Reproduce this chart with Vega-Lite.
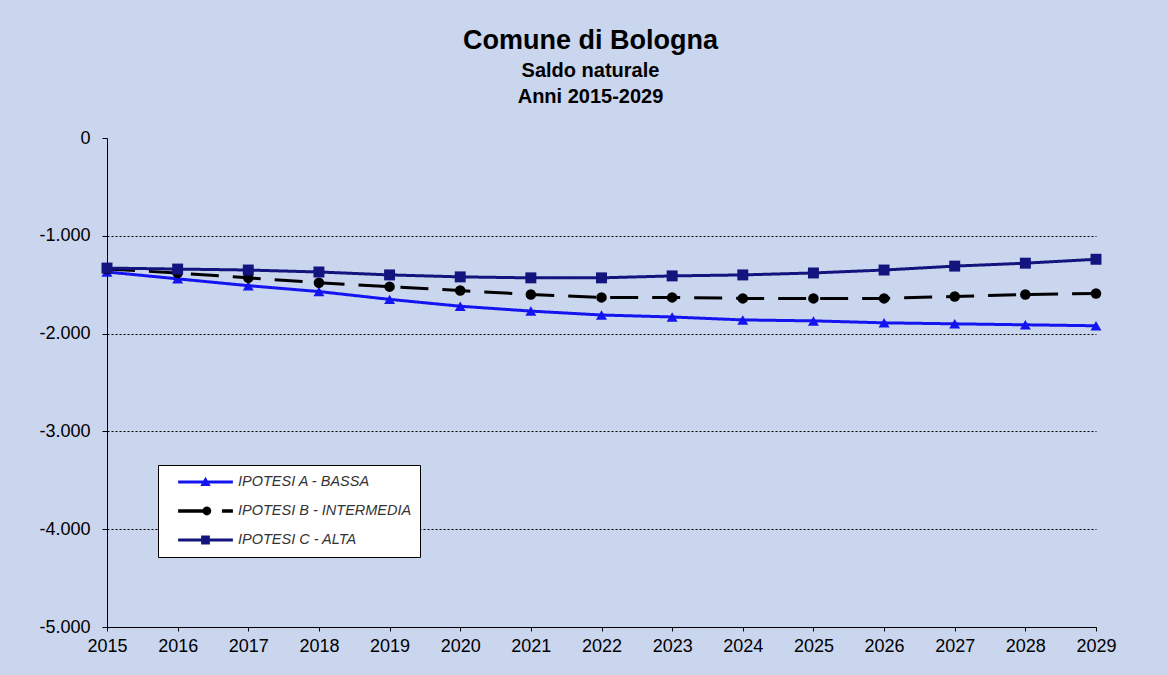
{
  "$schema": "https://vega.github.io/schema/vega-lite/v6.json",
  "width": 989,
  "height": 489,
  "autosize": {"type": "none"},
  "padding": {"left": 107, "top": 138, "right": 71, "bottom": 48},
  "background": "#cad5ee",
  "config": {
    "font": "Liberation Sans",
    "view": {"stroke": null},
    "locale": {"number": {"decimal": ",", "thousands": ".", "grouping": [3], "currency": ["€", ""], "minus": "-"}}
  },
  "title": {
    "text": "Comune di Bologna",
    "subtitle": ["Saldo naturale", "Anni 2015-2029"],
    "fontSize": 27,
    "fontWeight": "bold",
    "color": "black",
    "subtitleFontSize": 20,
    "subtitleFontWeight": "bold",
    "subtitleColor": "black",
    "subtitleLineHeight": 26,
    "subtitlePadding": 6,
    "anchor": "middle",
    "dx": -11,
    "offset": 21
  },
  "data": {
    "values": [
      {"anno": 2015, "serie": "IPOTESI A - BASSA", "saldo": -1370},
      {"anno": 2016, "serie": "IPOTESI A - BASSA", "saldo": -1440},
      {"anno": 2017, "serie": "IPOTESI A - BASSA", "saldo": -1510},
      {"anno": 2018, "serie": "IPOTESI A - BASSA", "saldo": -1570},
      {"anno": 2019, "serie": "IPOTESI A - BASSA", "saldo": -1650},
      {"anno": 2020, "serie": "IPOTESI A - BASSA", "saldo": -1720},
      {"anno": 2021, "serie": "IPOTESI A - BASSA", "saldo": -1770},
      {"anno": 2022, "serie": "IPOTESI A - BASSA", "saldo": -1810},
      {"anno": 2023, "serie": "IPOTESI A - BASSA", "saldo": -1830},
      {"anno": 2024, "serie": "IPOTESI A - BASSA", "saldo": -1860},
      {"anno": 2025, "serie": "IPOTESI A - BASSA", "saldo": -1870},
      {"anno": 2026, "serie": "IPOTESI A - BASSA", "saldo": -1890},
      {"anno": 2027, "serie": "IPOTESI A - BASSA", "saldo": -1900},
      {"anno": 2028, "serie": "IPOTESI A - BASSA", "saldo": -1910},
      {"anno": 2029, "serie": "IPOTESI A - BASSA", "saldo": -1920},
      {"anno": 2015, "serie": "IPOTESI B - INTERMEDIA", "saldo": -1340},
      {"anno": 2016, "serie": "IPOTESI B - INTERMEDIA", "saldo": -1380},
      {"anno": 2017, "serie": "IPOTESI B - INTERMEDIA", "saldo": -1430},
      {"anno": 2018, "serie": "IPOTESI B - INTERMEDIA", "saldo": -1480},
      {"anno": 2019, "serie": "IPOTESI B - INTERMEDIA", "saldo": -1520},
      {"anno": 2020, "serie": "IPOTESI B - INTERMEDIA", "saldo": -1560},
      {"anno": 2021, "serie": "IPOTESI B - INTERMEDIA", "saldo": -1600},
      {"anno": 2022, "serie": "IPOTESI B - INTERMEDIA", "saldo": -1630},
      {"anno": 2023, "serie": "IPOTESI B - INTERMEDIA", "saldo": -1630},
      {"anno": 2024, "serie": "IPOTESI B - INTERMEDIA", "saldo": -1640},
      {"anno": 2025, "serie": "IPOTESI B - INTERMEDIA", "saldo": -1640},
      {"anno": 2026, "serie": "IPOTESI B - INTERMEDIA", "saldo": -1640},
      {"anno": 2027, "serie": "IPOTESI B - INTERMEDIA", "saldo": -1620},
      {"anno": 2028, "serie": "IPOTESI B - INTERMEDIA", "saldo": -1600},
      {"anno": 2029, "serie": "IPOTESI B - INTERMEDIA", "saldo": -1590},
      {"anno": 2015, "serie": "IPOTESI C - ALTA", "saldo": -1330},
      {"anno": 2016, "serie": "IPOTESI C - ALTA", "saldo": -1340},
      {"anno": 2017, "serie": "IPOTESI C - ALTA", "saldo": -1350},
      {"anno": 2018, "serie": "IPOTESI C - ALTA", "saldo": -1370},
      {"anno": 2019, "serie": "IPOTESI C - ALTA", "saldo": -1400},
      {"anno": 2020, "serie": "IPOTESI C - ALTA", "saldo": -1420},
      {"anno": 2021, "serie": "IPOTESI C - ALTA", "saldo": -1430},
      {"anno": 2022, "serie": "IPOTESI C - ALTA", "saldo": -1430},
      {"anno": 2023, "serie": "IPOTESI C - ALTA", "saldo": -1410},
      {"anno": 2024, "serie": "IPOTESI C - ALTA", "saldo": -1400},
      {"anno": 2025, "serie": "IPOTESI C - ALTA", "saldo": -1380},
      {"anno": 2026, "serie": "IPOTESI C - ALTA", "saldo": -1350},
      {"anno": 2027, "serie": "IPOTESI C - ALTA", "saldo": -1310},
      {"anno": 2028, "serie": "IPOTESI C - ALTA", "saldo": -1280},
      {"anno": 2029, "serie": "IPOTESI C - ALTA", "saldo": -1240}
    ]
  },
  "encoding": {
    "x": {
      "field": "anno",
      "type": "quantitative",
      "scale": {"domain": [2015, 2029], "nice": false, "zero": false},
      "axis": {
        "title": null,
        "values": [2015, 2016, 2017, 2018, 2019, 2020, 2021, 2022, 2023, 2024, 2025, 2026, 2027, 2028, 2029],
        "format": "d",
        "grid": false,
        "domainColor": "black",
        "tickColor": "black",
        "tickSize": 4,
        "labelFontSize": 18,
        "labelColor": "black",
        "labelPadding": 6,
        "labelFlush": false,
        "labelOverlap": false
      }
    },
    "y": {
      "field": "saldo",
      "type": "quantitative",
      "scale": {"domain": [-5000, 0], "nice": false},
      "axis": {
        "title": null,
        "values": [-5000, -4000, -3000, -2000, -1000, 0],
        "format": ",d",
        "grid": true,
        "gridColor": "black",
        "gridDash": [2, 2],
        "gridWidth": 1,
        "gridOpacity": {"condition": {"test": "datum.value === 0", "value": 0}, "value": 1},
        "domainColor": "black",
        "tickColor": "black",
        "tickSize": 5,
        "labelFontSize": 18,
        "labelColor": "black",
        "labelPadding": 12
      }
    },
    "color": {
      "field": "serie",
      "type": "nominal",
      "scale": {
        "domain": ["IPOTESI A - BASSA", "IPOTESI B - INTERMEDIA", "IPOTESI C - ALTA"],
        "range": ["#1414f0", "#000000", "#14147f"]
      }
    }
  },
  "layer": [
    {
      "mark": {"type": "line", "strokeWidth": 3},
      "encoding": {
        "strokeDash": {
          "field": "serie",
          "type": "nominal",
          "scale": {
            "domain": ["IPOTESI A - BASSA", "IPOTESI B - INTERMEDIA", "IPOTESI C - ALTA"],
            "range": [[1, 0], [28, 14], [1, 0]]
          },
          "legend": null
        }
      }
    },
    {
      "transform": [{"filter": "datum.serie === 'IPOTESI A - BASSA'"}],
      "mark": {"type": "point", "filled": true, "opacity": 1, "size": 120, "shape": "triangle-up"}
    },
    {
      "transform": [{"filter": "datum.serie === 'IPOTESI B - INTERMEDIA'"}],
      "mark": {"type": "point", "filled": true, "opacity": 1, "size": 110, "shape": "circle"}
    },
    {
      "transform": [{"filter": "datum.serie === 'IPOTESI C - ALTA'"}],
      "mark": {"type": "point", "filled": true, "opacity": 1, "size": 120, "shape": "square"}
    },
    {
      "mark": {"type": "point", "filled": true, "opacity": 0, "size": 3000},
      "encoding": {
        "color": {
          "field": "serie",
          "type": "nominal",
          "legend": {
            "title": null,
            "orient": "none",
            "legendX": 51,
            "legendY": 327,
            "fillColor": "white",
            "strokeColor": "black",
            "padding": 8,
            "rowPadding": 11,
            "clipHeight": 18,
            "symbolOffset": 12,
            "labelOffset": 5,
            "labelLimit": 300,
            "labelFontSize": 14.5,
            "labelFontStyle": "italic",
            "labelColor": "#333333",
            "symbolOpacity": 1,
            "symbolStrokeWidth": 0,
            "symbolSize": 3000,
            "encode": {"symbols": {"update": {"opacity": {"value": 1}, "fillOpacity": {"value": 1}}}}
          }
        },
        "shape": {
          "field": "serie",
          "type": "nominal",
          "scale": {
            "domain": ["IPOTESI A - BASSA", "IPOTESI B - INTERMEDIA", "IPOTESI C - ALTA"],
            "range": [
              "M-1,-0.055H1V0.055H-1Z M-0.19,0.15L0,-0.19L0.19,0.15Z",
              "M-1,-0.065H0.05V0.065H-1Z M0.6,-0.065H1V0.065H0.6Z M0.21,0A0.16,0.16 0 1,1 -0.11,0A0.16,0.16 0 1,1 0.21,0Z",
              "M-1,-0.055H1V0.055H-1Z M-0.16,-0.16H0.16V0.16H-0.16Z"
            ]
          }
        }
      }
    }
  ]
}
